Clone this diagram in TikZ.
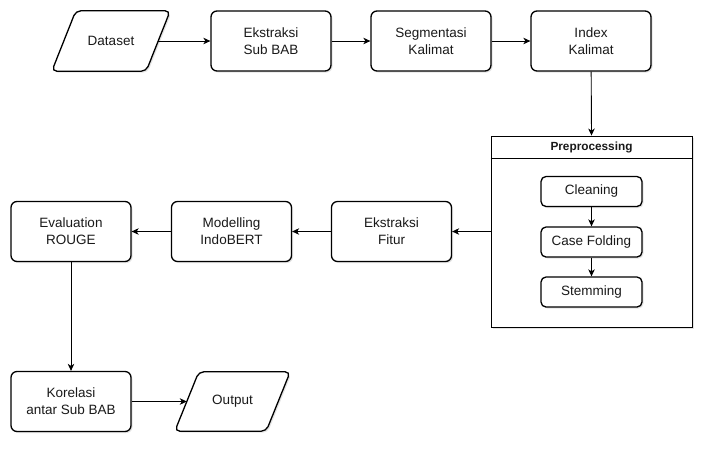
\documentclass[tikz,border=0pt]{standalone}
\usepackage{fontspec}
\setmainfont{Liberation Sans}
\usetikzlibrary{arrows.meta,shadows}
\tikzset{
  shd/.style={drop shadow={shadow xshift=1.5pt,shadow yshift=-1.5pt,opacity=0.18,fill=black!60}},
  txt/.style={align=center,font=\fontsize{13.5}{17}\selectfont,text=black!90},
  box/.style={txt,draw,fill=white,line width=1.3pt,rounded corners=6pt,minimum width=120pt,minimum height=60pt,shd},
  small/.style={box,minimum width=101pt,minimum height=30pt,rounded corners=5pt},
  para/.style={draw,fill=white,line width=1.3pt,rounded corners=5pt,shd},
  arr/.style={-{Stealth[length=7pt,width=6.5pt,inset=2pt]},line width=0.9pt},
}
\begin{document}
\begin{tikzpicture}[x=1pt,y=-1pt]
\useasboundingbox (0,0) rectangle (708,448);
% row 1
\node[txt,minimum width=118pt,minimum height=60pt,inner sep=0pt] (data) at (111,41) {};
\draw[para] ([xshift=24pt]data.north west) -- (data.north east) -- ([xshift=-24pt]data.south east) -- (data.south west) -- cycle;
\node[txt] at (data.center) {Dataset};
\coordinate (dataR) at ([xshift=-12pt]data.east);
\node[box] (ekstr) at (271,41) {Ekstraksi\\Sub BAB};
\node[box] (seg) at (431,41) {Segmentasi\\Kalimat};
\node[box] (idx) at (591,41) {Index\\Kalimat};
% preprocessing container
\node[draw,fill=white,line width=0.9pt,minimum width=201pt,minimum height=191pt,inner sep=0pt,shd] (prep) at (591.5,231.5) {};
\draw[line width=0.9pt] ([yshift=-23pt]prep.north west) -- ([yshift=-23pt]prep.north east);
\node[font=\bfseries\fontsize{11.8}{14}\selectfont,text=black!90] (prept) at (591.5,147.5) {Preprocessing};
\node[small] (clean) at (591.5,191.5) {Cleaning};
\node[small] (case) at (591.5,242) {Case Folding};
\node[small] (stem) at (591.5,292) {Stemming};
% row 2
\node[box] (fitur) at (391.5,231.5) {Ekstraksi\\Fitur};
\node[box] (model) at (231.5,231.5) {Modelling\\IndoBERT};
\node[box] (eval) at (71,231.5) {Evaluation\\ROUGE};
% row 3
\node[box] (kor) at (71,401.5) {Korelasi\\antar Sub BAB};
\node[txt,minimum width=115pt,minimum height=59pt,inner sep=0pt] (out) at (232.5,401.5) {};
\draw[para] ([xshift=24pt]out.north west) -- (out.north east) -- ([xshift=-24pt]out.south east) -- (out.south west) -- cycle;
\node[txt] at (out.center) {Output};
\coordinate (outL) at ([xshift=12pt]out.west);
% connectors
\draw[arr] (dataR) -- (ekstr);
\draw[arr] (ekstr) -- (seg);
\draw[arr] (seg) -- (idx);
\draw[arr] (idx) -- (prep.north);
\draw[arr] (clean) -- (case);
\draw[arr] (case) -- (stem);
\draw[arr] (prep.west) -- (fitur);
\draw[arr] (fitur) -- (model);
\draw[arr] (model) -- (eval);
\draw[arr] (eval) -- (kor);
\draw[arr] (kor) -- (outL);
\end{tikzpicture}
\end{document}
